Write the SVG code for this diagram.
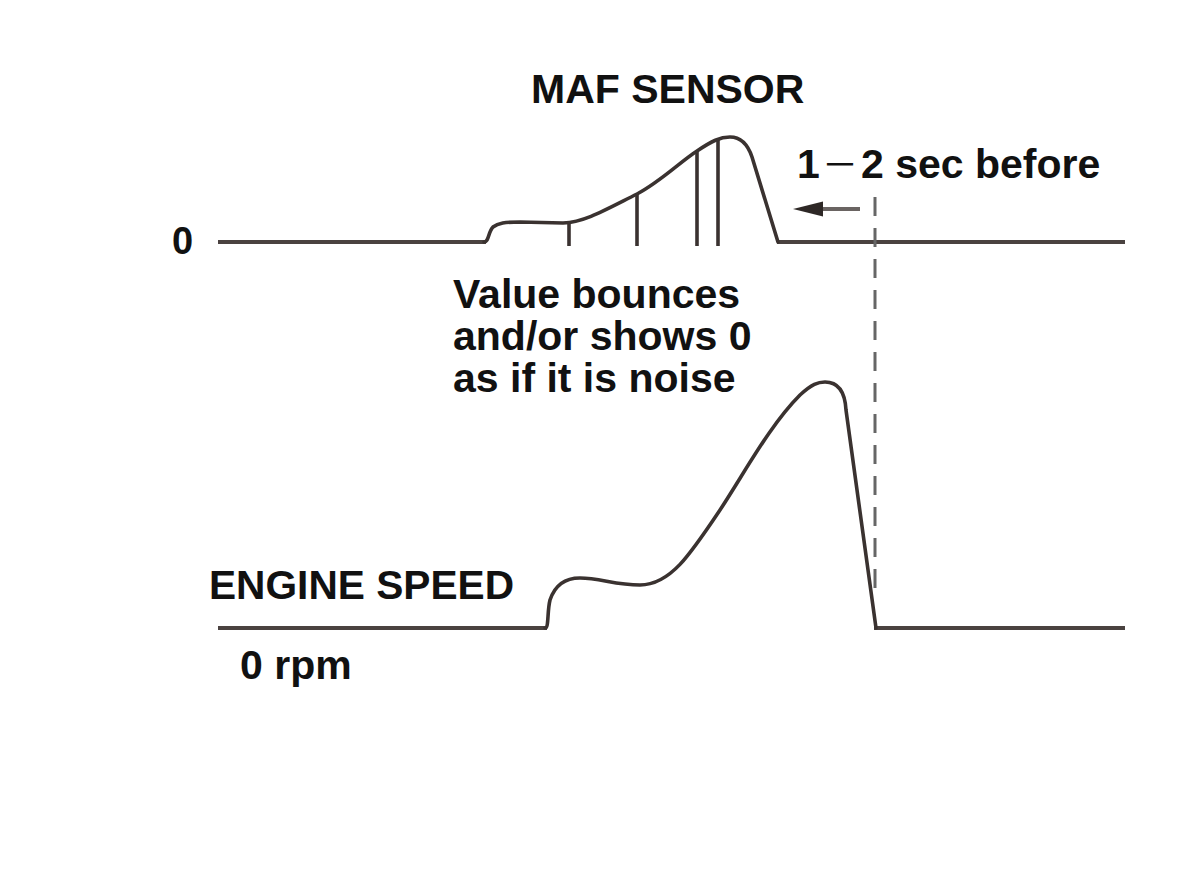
<svg xmlns="http://www.w3.org/2000/svg" width="1200" height="878" viewBox="0 0 1200 878">
<style>
.t{font-family:"Liberation Sans",Arial,sans-serif;font-weight:bold;fill:#111}
.curve{fill:none;stroke:#3a3230;stroke-width:3.6;stroke-linejoin:round;stroke-linecap:round}
.base{fill:none;stroke:#4a4240;stroke-width:4}
.tick{stroke:#3a3230;stroke-width:3.6}
.dash{stroke:#666;stroke-width:3;stroke-dasharray:19 12}
</style>
<rect width="1200" height="878" fill="#fff"/>
<g id="maf-signal">
<path class="base" d="M218,242 L486,242"/>
<path class="base" d="M777,242 L1125,242"/>
<path class="curve" d="M484,242 C489,242 488,232 493,227 C498,223 505,222 520,222 L563,223 C585,222 605,210 637,194 C660,182 680,162 697,151 C712,141 720,137 730,137 C742,137 748,145 752,157 L778,242"/>
<line class="tick" x1="569" y1="223" x2="569" y2="246"/>
<line class="tick" x1="637" y1="194" x2="637" y2="246"/>
<line class="tick" x1="697" y1="151" x2="697" y2="246"/>
<line class="tick" x1="718" y1="140" x2="718" y2="246"/>
</g>
<g id="engine-signal">
<path class="base" d="M218,628 L547,628"/>
<path class="base" d="M874,628 L1125,628"/>
<path class="curve" d="M545,628 C549,628 547,612 550,600 C555,585 565,578 580,578 C600,578 615,585 640,585 C670,585 690,555 720,510 C745,472 770,425 800,395 C812,384 818,382 825,382 C838,382 845,392 846,410 L876,628"/>
</g>
<g id="connectors">
<line class="dash" x1="875" y1="197" x2="875" y2="600"/>
<line x1="860" y1="209" x2="820" y2="209" stroke="#6a6462" stroke-width="4"/>
<polygon points="793,209 823,201.5 823,216.5" fill="#2e2826"/>
</g>
<g id="labels">
<text class="t" x="531" y="103" font-size="41">MAF SENSOR</text>
<text class="t" x="797" y="178" font-size="41">1<tspan x="822" font-family="'Noto Sans CJK JP',sans-serif" font-weight="normal" font-size="36">－</tspan><tspan x="861">2 sec before</tspan></text>
<text class="t" x="172" y="254" font-size="38">0</text>
<text class="t" x="453" y="308" font-size="41">Value bounces</text>
<text class="t" x="453" y="350" font-size="41">and/or shows 0</text>
<text class="t" x="453" y="392" font-size="41">as if it is noise</text>
<text class="t" x="209" y="599" font-size="40" textLength="305" lengthAdjust="spacingAndGlyphs">ENGINE SPEED</text>
<text class="t" x="240" y="679" font-size="41">0 rpm</text>
</g>
</svg>
